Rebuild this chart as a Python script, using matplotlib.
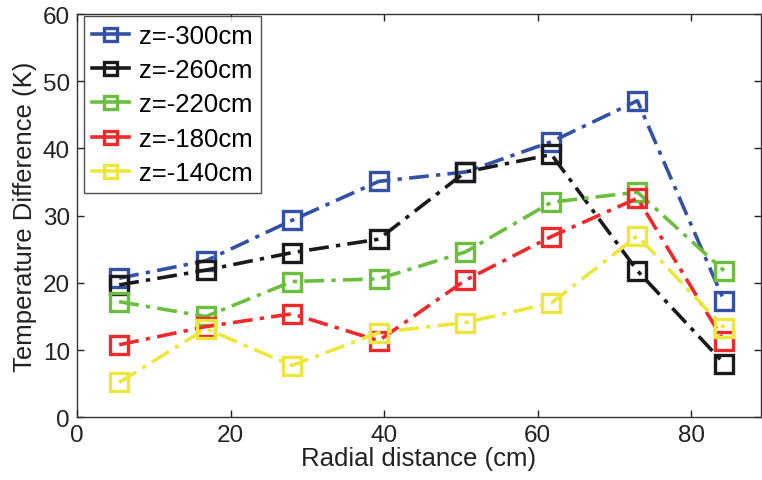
import matplotlib
matplotlib.use("Agg")
import matplotlib.pyplot as plt

radial = [5.5, 16.8, 28.0, 39.3, 50.6, 61.8, 73.0, 84.3]
labels = ["z=-300cm", "z=-260cm", "z=-220cm", "z=-180cm", "z=-140cm"]
z300 = [20.7, 23.3, 29.3, 35.1, 36.5, 41.0, 47.1, 17.3]
z260 = [19.7, 21.9, 24.5, 26.5, 36.5, 39.1, 21.8, 8.0]
z220 = [17.2, 15.0, 20.2, 20.6, 24.6, 32.0, 33.5, 21.8]
z180 = [10.8, 13.5, 15.4, 11.4, 20.4, 26.9, 32.6, 11.3]
z140 = [5.2, 13.2, 7.7, 12.6, 14.1, 17.0, 27.0, 13.3]
series = [z300, z260, z220, z180, z140]
colors = ["#3352A6", "#1A1A1A", "#6CBE3F", "#EE2A2D", "#EDE73C"]

plt.rcParams['font.family'] = ['Liberation Sans', 'DejaVu Sans']

fig = plt.figure(figsize=(7.62, 4.81), dpi=100)
ax = fig.add_axes([0.101, 0.1303, 0.8977, 0.8385])

for vals, lab, c in zip(series, labels, colors):
    ax.plot(radial, vals, linestyle='-.', dashes=(5.5, 2.0, 1.2, 2.0), color=c, lw=2.6,
            marker='s', markersize=13, markerfacecolor='none',
            markeredgecolor=c, markeredgewidth=2.4, label=lab)

ax.set_xlim(0, 89.1)
ax.set_ylim(0, 60)
ax.set_xticks([0, 20, 40, 60, 80])
ax.set_yticks([0, 10, 20, 30, 40, 50, 60])
ax.tick_params(direction='in', top=True, right=True, length=5, width=1,
               labelsize=17.5, colors='#222222', pad=5)
for s in ax.spines.values():
    s.set_linewidth(1.0)
    s.set_color('#333333')
ax.set_xlabel("Radial distance (cm)", fontsize=18.5, color='#222222', labelpad=0)
ax.set_ylabel("Temperature Difference (K)", fontsize=18.5, color='#222222', labelpad=4)

leg = ax.legend(loc='upper left', bbox_to_anchor=(0.0102, 0.995), borderaxespad=0,
                fontsize=18.5, markerscale=0.72, frameon=True,
                fancybox=False, edgecolor='#222222', handlelength=1.45,
                labelspacing=0.4, handletextpad=0.4, borderpad=0.3)
leg.get_frame().set_linewidth(1.0)
for h in leg.get_lines():
    h.set_linestyle('-')

fig.savefig("out.png", dpi=100)
